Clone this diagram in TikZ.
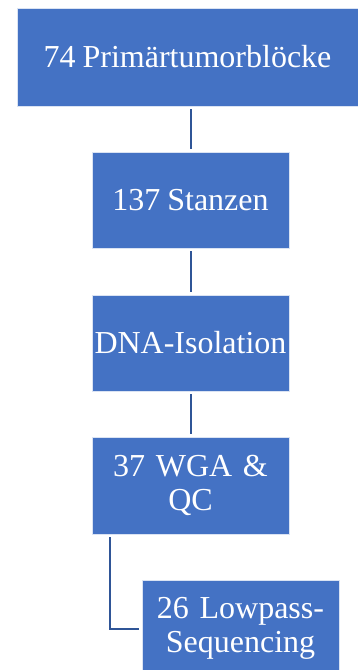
\documentclass[tikz,border=0pt]{standalone}
\usepackage{fontspec}
\setmainfont{Liberation Serif}
\definecolor{boxblue}{HTML}{4472C4}
\definecolor{lineblue}{HTML}{2F5597}
\newcommand{\boxfont}{\fontsize{32}{34}\selectfont\spaceskip=7pt plus 2pt minus 1pt\relax}
\begin{document}
\begin{tikzpicture}[x=1pt,y=-1pt,
  box/.style={rectangle, fill=boxblue, draw=white!80!boxblue, line width=0.8pt,
    text=white, align=center, inner sep=0pt, font=\boxfont},
  conn/.style={draw=lineblue, line width=2pt, shorten <=3pt, shorten >=3pt}]
\useasboundingbox (0,0) rectangle (357,670);
\fill[white] (0,0) rectangle (357,670);
\node[box, minimum width=341pt, minimum height=98pt] (b1) at (187.5,57) {74 Primärtumorblöcke};
\node[box, minimum width=197pt, minimum height=96pt] (b2) at (190.5,200) {137 Stanzen};
\node[box, minimum width=197pt, minimum height=96pt] (b3) at (190.5,343) {DNA-Isolation};
\node[box, minimum width=197pt, minimum height=97pt, text width=190pt] (b4) at (190.5,485.5) {37 WGA \&\\QC};
\node[box, minimum width=197pt, minimum height=97pt, text width=190pt] (b5) at (240.5,628.5) {26 Lowpass-\\Sequencing};
\draw[conn] (b1.south -| b2) -- (b2.north);
\draw[conn] (b2.south) -- (b3.north);
\draw[conn] (b3.south) -- (b4.north);
\coordinate (e4) at ([xshift=18pt]b4.south west);
\draw[conn] (e4) |- (b5.west);
\end{tikzpicture}
\end{document}
